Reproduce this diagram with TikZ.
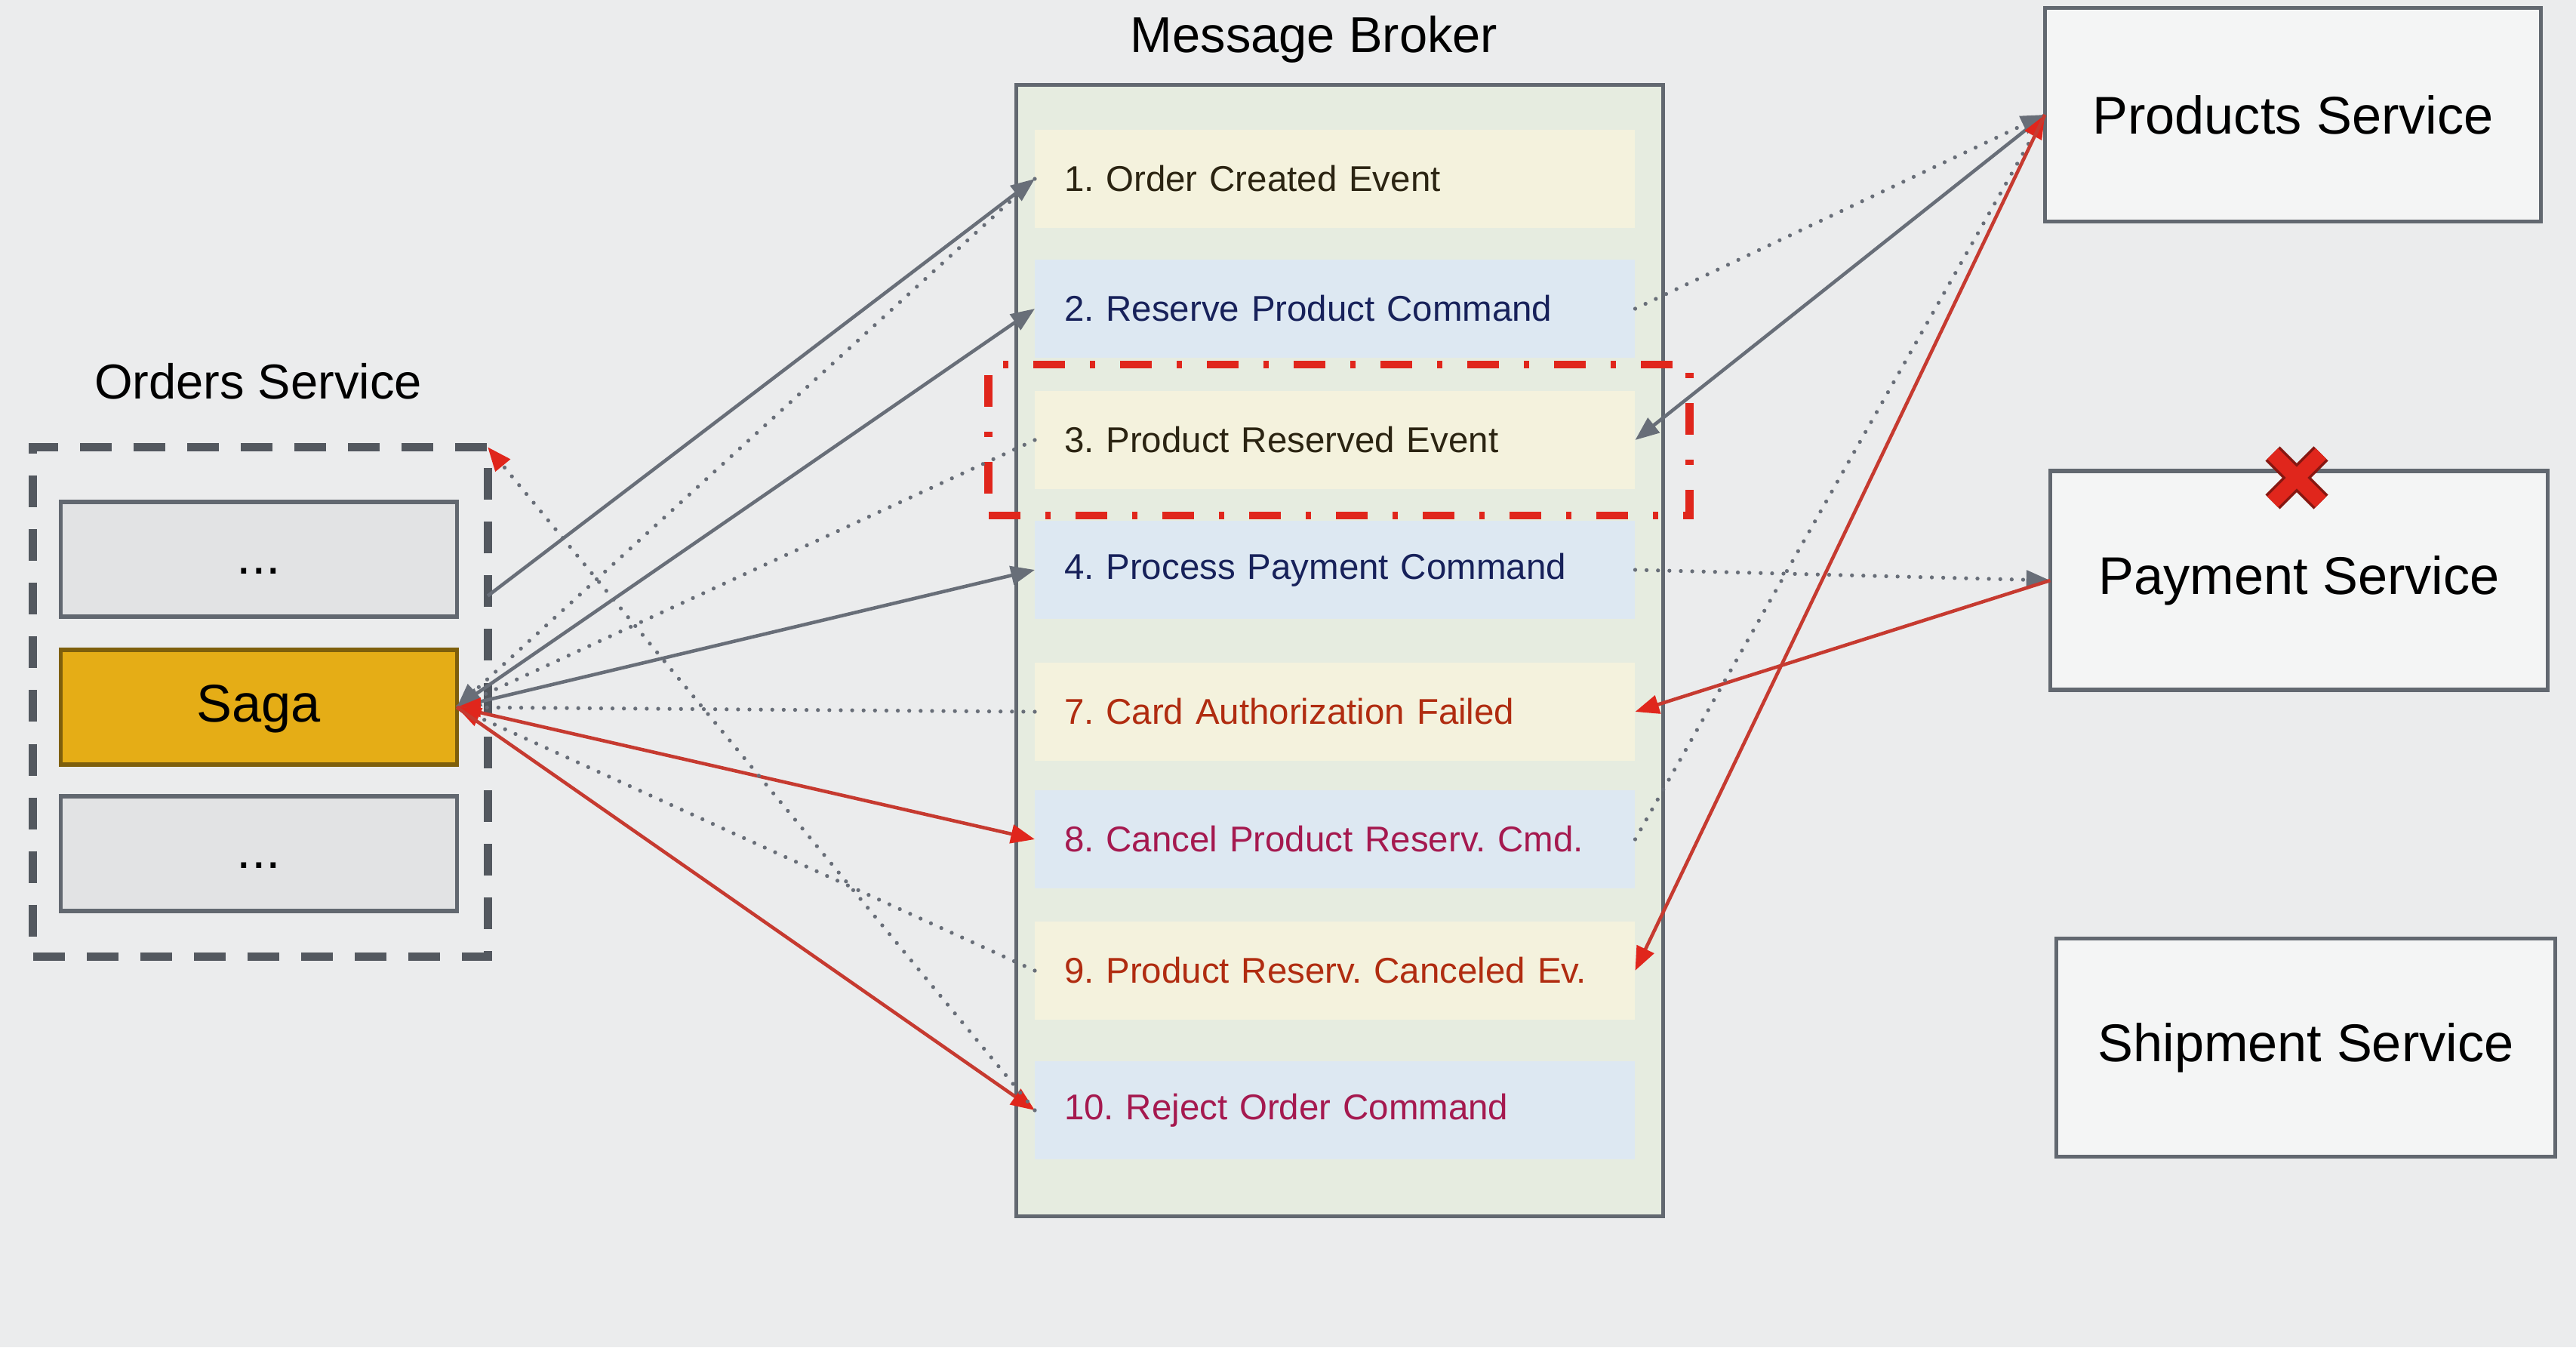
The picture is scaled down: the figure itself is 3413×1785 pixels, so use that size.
\documentclass[tikz,border=0pt]{standalone}
\usepackage{fontspec}
\setmainfont{Liberation Sans}
\usetikzlibrary{arrows.meta}
\definecolor{bg}{HTML}{EBECED}
\definecolor{frame}{HTML}{626870}
\definecolor{brokerfill}{HTML}{E6ECE0}
\definecolor{evyel}{HTML}{F4F2DD}
\definecolor{evblue}{HTML}{DDE8F2}
\definecolor{evdark}{HTML}{2B2412}
\definecolor{cmdnavy}{HTML}{17215A}
\definecolor{failtxt}{HTML}{B02C10}
\definecolor{compmag}{HTML}{A5194F}
\definecolor{sagafill}{HTML}{E5AD16}
\definecolor{arrgray}{HTML}{686E78}
\definecolor{arrred}{HTML}{E0261C}
\definecolor{lnred}{HTML}{C63A30}
\tikzset{
  svcbox/.style={draw=frame,line width=1.5pt,fill=white!45!bg,
    font=\fontsize{20}{24}\selectfont},
  partbox/.style={draw=frame,line width=1.5pt,minimum width=5.24cm,
    minimum height=1.52cm,text height=14pt,text depth=3pt,
    font=\fontsize{20}{24}\selectfont},
  evbox/.style={anchor=west,minimum height=1.3cm,text width=7.17cm,
    inner xsep=0.39cm,align=left,font=\fontsize{13.5}{16}\selectfont\frenchspacing},
  publine/.style={draw=arrgray,line width=1.3pt,
    -{Triangle[length=9pt,width=7pt]}},
  subline/.style={draw=arrgray,line width=1.5pt,line cap=round,
    dash pattern=on 0pt off 4.3pt,-{Triangle[length=9pt,width=7pt]}},
  pubfail/.style={draw=lnred,line width=1.3pt,
    -{Triangle[length=9pt,width=7pt,color=arrred]}},
  subfail/.style={draw=arrgray,line width=1.5pt,line cap=round,
    dash pattern=on 0pt off 4.3pt,-{Triangle[length=9pt,width=7pt,color=arrred]}}
}
\begin{document}
\begin{tikzpicture}[x=0.01cm,y=-0.01cm,every node/.style={inner sep=0,outer sep=0}]
  \fill[bg] (0,0) rectangle (3413,1785);

  %% Orders service with its saga.
  \node[font=\fontsize{18.5}{22}\selectfont] (ordtitle) at (342,505) {Orders Service};
  \node[draw=frame!85!black,line width=3.2pt,dash pattern=on 0.42cm off 0.29cm,
    minimum width=6.02cm,minimum height=6.75cm] (orders) at (345,930) {};
  \node[partbox,fill=black!4!bg] (upper) at (343,741) {...};
  \node[partbox,fill=sagafill,draw=sagafill!55!black] (saga) at (343,937) {Saga};
  \node[partbox,fill=black!4!bg] (lower) at (343,1131) {...};

  %% Broker with its messages.
  \node[font=\fontsize{19}{23}\selectfont] (brktitle) at (1741,52) {Message Broker};
  \node[draw=frame,line width=1.5pt,fill=brokerfill,minimum width=8.56cm,
    minimum height=14.98cm] (broker) at (1775,862) {};
  \node[evbox,fill=evyel,text=evdark] (ev1) at (1371,237) {1. Order Created Event};
  \node[evbox,fill=evblue,text=cmdnavy] (ev2) at (1371,409) {2. Reserve Product Command};
  \node[evbox,fill=evyel,text=evdark] (ev3) at (1371,583) {3. Product Reserved Event};
  \node[evbox,fill=evblue,text=cmdnavy] (ev4) at (1371,755) {4. Process Payment Command};
  \node[evbox,fill=evyel,text=failtxt] (ev7) at (1371,943) {7. Card Authorization Failed};
  \node[evbox,fill=evblue,text=compmag] (ev8) at (1371,1112) {8. Cancel Product Reserv. Cmd.};
  \node[evbox,fill=evyel,text=failtxt] (ev9) at (1371,1286) {9. Product Reserv. Canceled Ev.};
  \node[evbox,fill=evblue,text=compmag] (ev10) at (1371,1471) {10. Reject Order Command};
  \node[draw=arrred,line width=3pt,
    dash pattern=on 0.42cm off 0.33cm on 0.07cm off 0.33cm,
    minimum width=9.28cm,minimum height=2cm] (focus) at (1774,583) {};

  %% Other services.
  \node[svcbox,minimum width=6.57cm,minimum height=2.83cm] (products) at (3038,152) {Products Service};
  \node[svcbox,minimum width=6.59cm,minimum height=2.9cm] (payment) at (3046,769) {Payment Service};
  \node[svcbox,minimum width=6.6cm,minimum height=2.89cm] (shipment) at (3055,1388) {Shipment Service};
  \node[minimum size=0.64cm] (fail) at (3043,633) {};
  \draw[line width=0.27cm,arrred!60!black] (fail.north west) -- (fail.south east)
    (fail.north east) -- (fail.south west);
  \draw[line width=0.2cm,arrred] (fail.north west) -- (fail.south east)
    (fail.north east) -- (fail.south west);

  %% Saga side.
  \draw[publine] (orders.25) -- (ev1.west);
  \draw[subline] (ev1.west) -- (saga.east);
  \draw[publine] (saga.east) -- (ev2.west);
  \draw[subline] (ev3.west) -- (saga.east);
  \draw[publine] (saga.east) -- (ev4.west);
  \draw[subfail] (ev7.west) -- (saga.east);
  \draw[pubfail] (saga.east) -- (ev8.west);
  \draw[subfail] (ev9.west) -- (saga.east);
  \draw[pubfail] (saga.east) -- (ev10.west);
  \draw[subfail] (ev10.west) -- (orders.north east);

  %% Service side.
  \draw[subline] (ev2.east) -- (products.west);
  \draw[publine] (products.west) -- (ev3.east);
  \draw[subline] (ev4.east) -- (payment.west);
  \draw[pubfail] (payment.west) -- (ev7.east);
  \draw[subfail] (ev8.east) -- (products.west);
  \draw[pubfail] (products.west) -- (ev9.east);
\end{tikzpicture}
\end{document}
